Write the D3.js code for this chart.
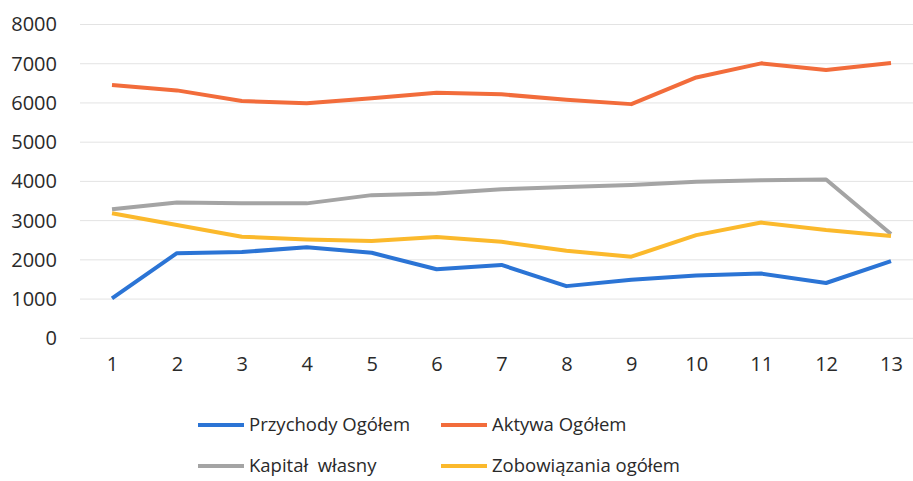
<!DOCTYPE html>
<html>
<head>
<meta charset="utf-8">
<script src="https://cdn.jsdelivr.net/npm/d3@7"></script>
<style>
  body { margin: 0; background: #fff; }
  text { font-family: "Open Sans", "Liberation Sans", sans-serif; fill: #2a2a2a; }
</style>
</head>
<body>
<div id="chart"></div>
<script>
var categories = ["1","2","3","4","5","6","7","8","9","10","11","12","13"];
var yTicks = [0,1000,2000,3000,4000,5000,6000,7000,8000];

var przychody = [1020,2170,2200,2320,2180,1760,1870,1330,1490,1600,1650,1410,1970];
var aktywa = [6460,6320,6050,5990,6120,6260,6220,6080,5970,6650,7010,6840,7020];
var kapital = [3290,3460,3440,3440,3650,3690,3800,3860,3910,3990,4030,4050,2660];
var zobowiazania = [3190,2890,2590,2520,2480,2580,2460,2230,2080,2630,2950,2760,2610];

var seriesNames = ["Przychody Ogółem","Aktywa Ogółem","Kapitał  własny","Zobowiązania ogółem"];
var seriesValues = [przychody, aktywa, kapital, zobowiazania];
var colors = ["#2b74d5","#f26c3b","#a4a4a4","#fbb92c"];

var width = 913, height = 481;
var svg = d3.select("#chart").append("svg")
  .attr("width", width)
  .attr("height", height);

// plot area runs a bit past the right edge like in the picture
var x = d3.scalePoint()
  .domain(categories)
  .range([112, 891]);

var y = d3.scaleLinear()
  .domain([0, 8000])
  .range([338.3, 24.5]);

// gridlines
svg.append("g").selectAll("line")
  .data(yTicks)
  .enter().append("line")
  .attr("x1", 80)
  .attr("x2", width)
  .attr("y1", function(d) { return y(d); })
  .attr("y2", function(d) { return y(d); })
  .style("stroke", "#e3e3e3")
  .style("stroke-width", 1);

// y axis labels
var yAxis = d3.axisLeft(y).tickValues(yTicks).tickFormat(d3.format("d")).tickSize(0).tickPadding(0);
var gy = svg.append("g")
  .attr("transform", "translate(57,0)")
  .call(yAxis);
gy.select(".domain").remove();
gy.selectAll("text")
  .style("font-size", "20px")
  .style("fill", "#2a2a2a");

// x axis labels
var xAxis = d3.axisBottom(x).tickSize(0).tickPadding(0);
var gx = svg.append("g")
  .attr("transform", "translate(0,357)")
  .call(xAxis);
gx.select(".domain").remove();
gx.selectAll("text")
  .style("font-size", "20px")
  .style("fill", "#2a2a2a");

var line = d3.line()
  .x(function(d, i) { return x(categories[i]); })
  .y(function(d) { return y(d); });

// draw order: blue, orange, gray, yellow
seriesValues.forEach(function(vals, i) {
  svg.append("path")
    .datum(vals)
    .attr("d", line)
    .style("fill", "none")
    .style("stroke", colors[i])
    .style("stroke-width", 4)
    .style("stroke-linejoin", "round");
});

// legend
var legendPos = [[198,425],[441,425],[198,466],[441,466]];
var legend = svg.selectAll(".legend")
  .data(seriesNames)
  .enter().append("g")
  .attr("class", "legend")
  .attr("transform", function(d, i) { return "translate(" + legendPos[i][0] + "," + legendPos[i][1] + ")"; });

legend.append("line")
  .attr("x1", 0)
  .attr("x2", 46)
  .attr("y1", 0)
  .attr("y2", 0)
  .style("stroke", function(d, i) { return colors[i]; })
  .style("stroke-width", 4);

legend.append("text")
  .attr("x", 51)
  .attr("y", 0)
  .attr("dy", "0.35em")
  .style("font-size", "18.5px")
  .style("white-space", "pre")
  .text(function(d) { return d; });
</script>
</body>
</html>
